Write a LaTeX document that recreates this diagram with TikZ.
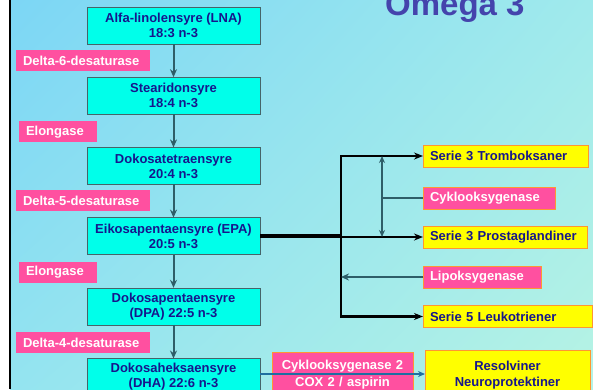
\documentclass[tikz,border=0pt]{standalone}
\usepackage{fontspec}
\setmainfont{Liberation Sans}
\usetikzlibrary{arrows.meta,shadings}
\usepackage{xcolor}

\definecolor{bgtl}{RGB}{124,214,245}
\definecolor{bgtr}{RGB}{160,234,236}
\definecolor{bgbl}{RGB}{148,228,240}
\definecolor{bgbr}{RGB}{182,243,228}
\definecolor{acidfill}{RGB}{0,255,234}
\definecolor{acidline}{RGB}{70,100,105}
\definecolor{navy}{RGB}{22,22,140}
\definecolor{titlecol}{RGB}{68,68,172}
\definecolor{enzfill}{RGB}{255,80,160}
\definecolor{orangeline}{RGB}{255,150,50}
\definecolor{prodfill}{RGB}{255,255,0}
\definecolor{flowcol}{RGB}{46,94,104}
\definecolor{dhacol}{RGB}{30,110,160}

\tikzset{
  acid/.style={draw=acidline, fill=acidfill, text=navy, align=center,
    minimum width=173pt, minimum height=37pt, inner sep=0pt, outer sep=0pt},
  enzyme/.style={fill=enzfill, text=white, anchor=west, align=left,
    minimum height=21pt, inner xsep=7pt, inner ysep=0pt, outer sep=0pt},
  enzbox/.style={enzyme, draw=orangeline, minimum height=22pt},
  product/.style={draw=orangeline, fill=prodfill, text=navy, anchor=west, align=left,
    minimum height=22pt, inner xsep=7pt, inner ysep=0pt, outer sep=0pt},
  flow/.style={draw=flowcol, line width=2pt, -{Stealth[length=8pt,width=7pt]}},
  branch/.style={draw=black, line width=2.2pt, -{Stealth[length=9pt,width=7pt]}},
}

\begin{document}
\begin{tikzpicture}[x=1pt, y=-1pt, font=\fontsize{13}{15}\selectfont\bfseries]
\pgfmathsetmacro{\chainx}{173.5}
\pgfmathsetmacro{\firsty}{25.5}
\pgfmathsetmacro{\stepy}{70.2}
\pgfmathsetmacro{\enzy}{60.5}
\pgfmathsetmacro{\hubx}{341}
\pgfmathsetmacro{\coxx}{382}
\pgfmathsetmacro{\rightx}{423}

\useasboundingbox (0,0) rectangle (593,389);
\clip (0,0) rectangle (593,389);
\fill[white] (0,0) rectangle (10,389);
\shade[upper left=bgtl, upper right=bgtr, lower left=bgbl, lower right=bgbr] (10,0) rectangle (593,389);
\draw[line width=2pt] (10,0) -- (10,389);

\node[anchor=base west, text=titlecol, inner sep=0pt, font=\fontsize{33}{36}\selectfont\bfseries] (title) at (385,15) {Omega 3};

% fatty acids
\node[acid] (lna) at (\chainx, \firsty) {Alfa-linolensyre (LNA)\\18:3 n-3};
\node[acid] (sda) at (\chainx, \firsty+\stepy) {Stearidonsyre\\18:4 n-3};
\node[acid] (dta) at (\chainx, \firsty+2*\stepy) {Dokosatetraensyre\\20:4 n-3};
\node[acid] (epa) at (\chainx, \firsty+3*\stepy) {Eikosapentaensyre (EPA)\\20:5 n-3};
\node[acid] (dpa) at (\chainx, \firsty+4*\stepy) {Dokosapentaensyre\\(DPA) 22:5 n-3};
\node[acid] (dha) at (\chainx, \firsty+5*\stepy+0.5) {Dokosaheksaensyre\\(DHA) 22:6 n-3};

% enzymes
\node[enzyme, text width=120pt] (d6) at (16, \enzy) {Delta-6-desaturase};
\node[enzyme, text width=64pt] (elo1) at (19, \enzy+\stepy+1) {Elongase};
\node[enzyme, text width=120pt] (d5) at (16, \enzy+2*\stepy) {Delta-5-desaturase};
\node[enzyme, text width=64pt] (elo2) at (19, \enzy+3*\stepy+1) {Elongase};
\node[enzyme, text width=120pt] (d4) at (16, \enzy+4*\stepy+1.5) {Delta-4-desaturase};

\foreach \a/\b in {lna/sda, sda/dta, dta/epa, epa/dpa, dpa/dha}
  \draw[flow] (\a) -- (\b);

% eicosanoids
\node[product, text width=151pt] (txa) at (\rightx, 156) {Serie 3 Tromboksaner};
\node[enzbox, text width=118pt] (cox) at (\rightx, 198) {Cyklooksygenase};
\node[product, text width=150pt] (pg) at (\rightx, 237) {Serie 3 Prostaglandiner};
\node[enzbox, text width=104pt] (lox) at (\rightx, 277) {Lipoksygenase};
\node[product, text width=155pt] (lt) at (\rightx, 316.5) {Serie 5 Leukotriener};

\node[enzbox, anchor=north west, align=center, text width=127pt, minimum height=45pt,
  font=\fontsize{13}{17}\selectfont\bfseries] (cox2) at (272,352) {Cyklooksygenase 2\\COX 2 / aspirin};
\node[product, anchor=north west, align=center, text width=151pt, minimum height=50pt,
  font=\fontsize{13}{16}\selectfont\bfseries] (resolv) at (425,350) {Resolviner\\Neuroprotektiner};

\coordinate (hub) at (\hubx, 0);
\coordinate (coxbar) at (\coxx, 0);

\draw[line width=3.6pt] (epa.east) -- (hub |- epa.east);
\draw[branch] (hub |- epa.east) |- (txa.west);
\draw[branch] (hub |- epa.east) |- (lt.west);
\draw[branch] (hub |- pg.west) -- (pg.west);

\draw[flow, line width=1.6pt, {Stealth[length=7pt,width=6pt]}-{Stealth[length=7pt,width=6pt]}] (coxbar |- txa.west) -- (coxbar |- pg.west);
\draw[draw=flowcol, line width=1.6pt] (coxbar |- cox.west) -- (cox.west);
\draw[flow, line width=1.6pt] (lox.west) -- (hub |- lox.west);

\draw[draw=dhacol, line width=1.4pt, -{Stealth[length=7pt,width=6pt]}] ([yshift=3pt]dha.east) -- ([yshift=3pt]dha.east -| resolv.west);
\end{tikzpicture}
\end{document}
